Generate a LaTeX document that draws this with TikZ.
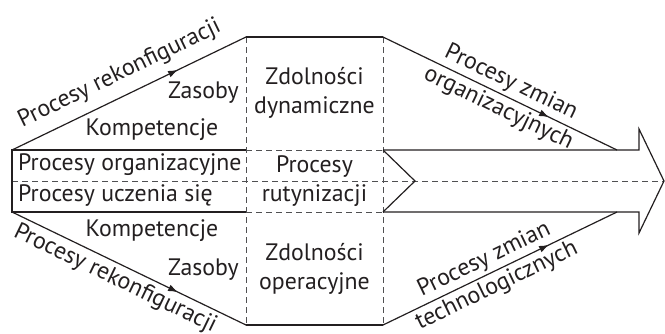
\documentclass[tikz,border=0pt]{standalone}
\usepackage{fontspec}
\setmainfont{PT Sans}
\usetikzlibrary{arrows.meta,positioning,calc,decorations.markings}
\definecolor{ink}{HTML}{231F20}
\definecolor{dashgray}{HTML}{505052}
\tikzset{
  edge/.style={draw=ink, line width=1.2pt},
  dline/.style={draw=dashgray, line width=1pt, dash pattern=on 6pt off 4pt},
  midarr/.style={postaction={decorate}, decoration={markings, mark=at position 0.71 with {\arrow[ink]{Latex[length=10pt,width=7pt]}}}},
  lbl/.style={font=\fontsize{23.8}{29}\selectfont, text=ink, align=center, inner sep=1pt},
}

\begin{document}
\begin{tikzpicture}[x=1pt,y=-1pt]
\useasboundingbox (0,0) rectangle (665,333);

% corner points of the band and the middle block
\coordinate (ltop) at (12,150);
\coordinate (lmid) at (12,181);
\coordinate (lbot) at (12,212);
\coordinate (ctl) at (246,150);
\coordinate (ctr) at (383,150);
\coordinate (cbl) at (246,212);
\coordinate (cbr) at (383,212);
\coordinate (htl) at (246,37);
\coordinate (htr) at (383,37);
\coordinate (hbl) at (246,325);
\coordinate (hbr) at (383,325);
\coordinate (notch) at (415,181);
\coordinate (rtop) at (617,150);
\coordinate (rbot) at (617,212);
\coordinate (shtop) at (639,150);
\coordinate (shbot) at (639,212);
\coordinate (headtop) at (639,129);
\coordinate (headbot) at (639,233);
\coordinate (tip) at (664,181);

% dashed divisions
\draw[dline] (htl) -- (hbl);
\draw[dline] (htr) -- (hbr);
\draw[dline] (ctl) -- (ctr);
\draw[dline] (cbl) -- (cbr);
\draw[dline] (lmid) -- (tip);

% band and big arrow
\draw[edge] (cbl) -- (lbot) -- (ltop) -- (ctl);
\draw[edge] (ctr) -- (notch) -- (cbr);
\draw[edge, line join=miter] (ctr) -- (shtop) -- (headtop) -- (tip) -- (headbot) -- (shbot) -- (cbr);
\draw[edge] (htl) -- (htr);
\draw[edge] (hbl) -- (hbr);

% slanted process lines
\draw[edge, midarr] (ltop) -- (htl)
  node[lbl, pos=0.5, sloped, above=9pt] (rekup) {Procesy rekonfiguracji};
\draw[edge, midarr] (lbot) -- (hbl)
  node[lbl, pos=0.47, sloped, below=3pt] (rekdown) {Procesy rekonfiguracji};
\draw[edge, midarr] (htr) -- (rtop)
  node[lbl, pos=0.52, sloped] (orgch) {Procesy zmian\\organizacyjnych};
\draw[edge, midarr] (hbr) -- (rbot)
  node[lbl, pos=0.46, sloped] (techch) {Procesy zmian\\technologicznych};

% labels
\node[lbl, anchor=east] (zasup) at (240,93) {Zasoby};
\node[lbl] (kompup) at (152,130) {Kompetencje};
\node[lbl, anchor=west] (orgproc) at (17,165) {Procesy organizacyjne};
\node[lbl, anchor=west] (learn) at (17,196) {Procesy uczenia się};
\node[lbl] (kompdown) at (152,231) {Kompetencje};
\node[lbl, anchor=east] (zasdown) at (240,270) {Zasoby};
\node[lbl] (dyn) at (314.5,93) {Zdolności\\dynamiczne};
\node[lbl] (rut) at (314.5,181) {Procesy\\rutynizacji};
\node[lbl] (oper) at (314.5,269) {Zdolności\\operacyjne};

\end{tikzpicture}
\end{document}
